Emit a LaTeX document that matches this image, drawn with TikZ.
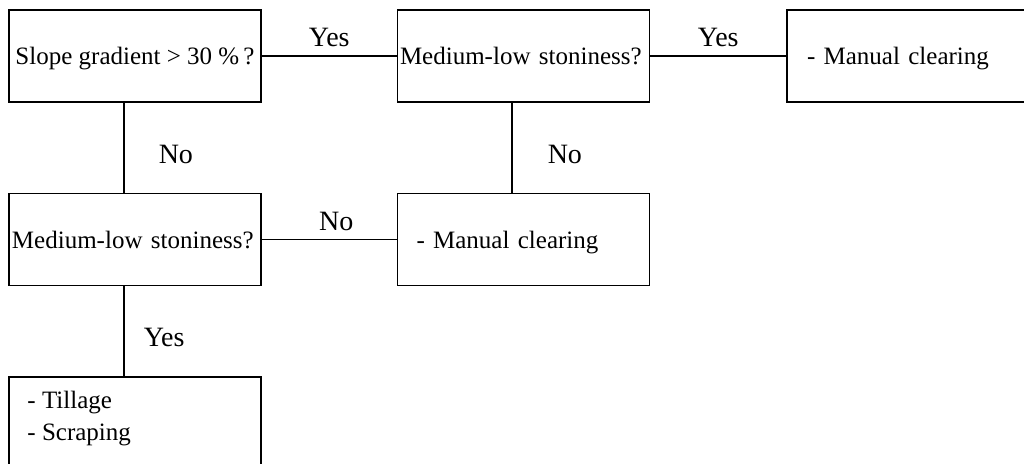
\documentclass[tikz,border=0pt]{standalone}
\usepackage{fontspec}
\setmainfont{Liberation Serif}
\begin{document}
\begin{tikzpicture}[x=1pt,y=-1pt,
  box/.style={draw, line width=1.5pt, minimum width=252pt, minimum height=92pt, inner ysep=0pt, font=\fontsize{25}{32}\selectfont, text height=17pt, text depth=0pt},
  txt/.style={font=\fontsize{25}{32}\selectfont, inner sep=0pt},
  lab/.style={font=\fontsize{28}{34}\selectfont, inner sep=0pt, text height=19pt, text depth=0pt},
  conn/.style={line width=1.5pt}]
\useasboundingbox (0,0) rectangle (1024,463);
\clip (0,0) rectangle (1024,463);
\node[box, inner xsep=0pt] (b1) at (135,56) {Slope gradient > 30 \%\,?};
\node[box, inner xsep=2.5pt, text width=247pt, align=left] (b2) at (523.5,56) {Medium-low stoniness?};
\node[box, inner xsep=20pt, text width=212pt, align=left] (b3) at (913,56) {- Manual clearing};
\node[box, inner xsep=3pt, text width=246pt, align=left] (b4) at (135,239.5) {Medium-low stoniness?};
\node[box, inner xsep=19pt, text width=214pt, align=left] (b5) at (523.5,239.5) {- Manual clearing};
\node[box, anchor=north] (b6) at (135,376) {};
\node[txt, anchor=base west] (t6a) at ([xshift=19pt,yshift=-32pt]b6.north west) {- Tillage};
\node[txt, anchor=base west] (t6b) at ([xshift=19pt,yshift=-64pt]b6.north west) {- Scraping};
\draw[conn] (b1) -- node[lab, above=8.5pt] (l1) {Yes} (b2);
\draw[conn] (b2) -- node[lab, above=8.5pt] (l2) {Yes} (b3);
\draw[conn] (b4) -- node[lab, above=8.5pt, xshift=7pt] (l3) {No} (b5);
\draw[conn] ([xshift=-11pt]b1.south) -- node[lab, right=34pt, yshift=-6pt] (l4) {No} ([xshift=-11pt]b4.north);
\draw[conn] ([xshift=-11.5pt]b2.south) -- node[lab, right=35pt, yshift=-6pt] (l5) {No} ([xshift=-11.5pt]b5.north);
\draw[conn] ([xshift=-11pt]b4.south) -- node[lab, right=19pt, yshift=-5.5pt] (l6) {Yes} ([xshift=-11pt]b6.north);
\end{tikzpicture}
\end{document}
